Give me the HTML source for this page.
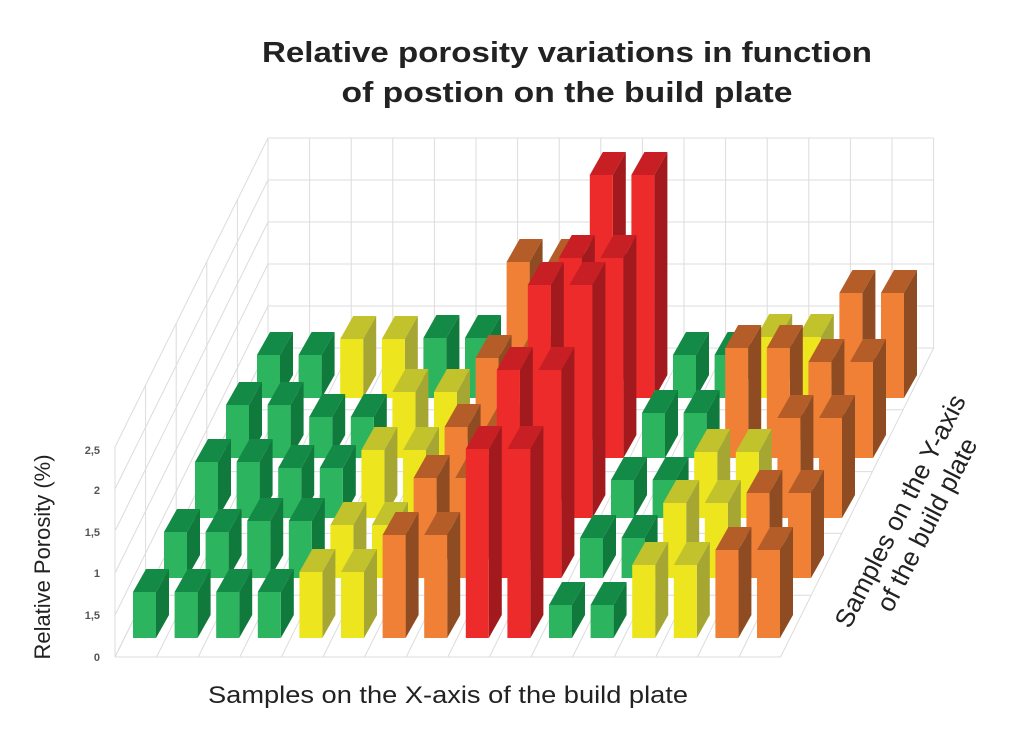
<!DOCTYPE html>
<html><head><meta charset="utf-8"><style>
body{margin:0;background:#fff;}
svg{display:block;font-family:"Liberation Sans",sans-serif;}
</style></head><body>
<svg id="s" width="1024" height="735" viewBox="0 0 1024 735" xmlns="http://www.w3.org/2000/svg">
<text x="567" y="62" text-anchor="middle" font-size="29" font-weight="bold" fill="#222" textLength="610" lengthAdjust="spacingAndGlyphs">Relative porosity variations in function</text>
<text x="567" y="102" text-anchor="middle" font-size="29" font-weight="bold" fill="#222" textLength="451" lengthAdjust="spacingAndGlyphs">of postion on the build plate</text>
<g id="grid" stroke="#dcdcdc" stroke-width="1" fill="none"></g>
<g id="bars"></g>
<g font-size="11" font-weight="bold" fill="#555" text-anchor="end">
<text x="100" y="454">2,5</text><text x="100" y="494">2</text><text x="100" y="536">1,5</text>
<text x="100" y="577">1</text><text x="100" y="619">1,5</text><text x="100" y="661">0</text>
</g>
<text transform="translate(50,557) rotate(-90)" text-anchor="middle" font-size="22" fill="#222" textLength="205" lengthAdjust="spacingAndGlyphs">Relative Porosity (%)</text>
<text x="448" y="703" text-anchor="middle" font-size="24" fill="#222" textLength="480" lengthAdjust="spacingAndGlyphs">Samples on the X-axis of the build plate</text>
<g transform="translate(908,515) rotate(-63)" font-size="26" fill="#222" text-anchor="middle">
<text x="0" y="0">Samples on the Y-axis</text>
<text x="0" y="30">of the build plate</text>
</g>
</svg>
<script>
var ns="http://www.w3.org/2000/svg";
function el(p,t,a){var e=document.createElementNS(ns,t);for(var k in a)e.setAttribute(k,a[k]);p.appendChild(e);return e;}
var g=document.getElementById('grid');
function L(x1,y1,x2,y2){el(g,'line',{x1:x1,y1:y1,x2:x2,y2:y2});}
var dx=153,dy=-309,cw=41.6;
for(var j=0;j<=5;j++)L(268,348-42*j,268+16*cw,348-42*j);
for(var i=0;i<=16;i++)L(268+i*cw,348,268+i*cw,138);
for(var i=0;i<=16;i++)L(115+i*cw,657,268+i*cw,348);
for(var k=0;k<=5;k++)L(115+dx*k/5,657+dy*k/5,115+16*cw+dx*k/5,657+dy*k/5);
for(var j=0;j<=5;j++)L(115,657-42*j,268,348-42*j);
for(var k=0;k<=5;k++)L(115+dx*k/5,657+dy*k/5,115+dx*k/5,447+dy*k/5);
var C={G:['#2db45e','#138a45','#0f7a3c'],Y:['#ede51e','#c2c22c','#a6a632'],O:['#f08036','#b55d28','#8f4c22'],R:['#ee2b2b','#c81f25','#a21a1e']};
var rows=[
"G46 G46 G46 G46 Y66 Y66 O103 O103 R189 R189 G33 G33 Y73 Y73 O88 O88",
"G46 G46 G57 G57 Y53 Y53 O100 O100 R208 R208 G40 G40 Y75 Y75 O85 O85",
"G56 G56 G50 G50 Y68 Y68 O91 O91 R233 R233 G38 G38 Y66 Y66 O100 O100",
"G53 G53 G41 G41 Y66 Y66 O100 O100 R200 R200 G45 G45 O110 O110 O96 O96",
"G43 G43 Y59 Y59 G60 G60 O136 O136 R223 R223 G43 G43 Y61 Y61 O105 O105"];
var b=document.getElementById('bars');
var W=23,sx=13,sy=23;
for(var r=4;r>=0;r--){var it=rows[r].split(' ');
 for(var c=0;c<16;c++){var t=it[c][0],h=+it[c].slice(1),col=C[t];
  var x=133+c*cw+31*r,yb=638-60*r,yt=yb-h;
  el(b,'polygon',{points:[x,yt,x+sx,yt-sy,x+W+sx,yt-sy,x+W,yt].join(','),fill:col[1]});
  el(b,'polygon',{points:[x+W,yb,x+W+sx,yb-sy,x+W+sx,yt-sy,x+W,yt].join(','),fill:col[2]});
  el(b,'rect',{x:x,y:yt,width:W,height:h,fill:col[0]});
 }}
</script>
</body></html>
